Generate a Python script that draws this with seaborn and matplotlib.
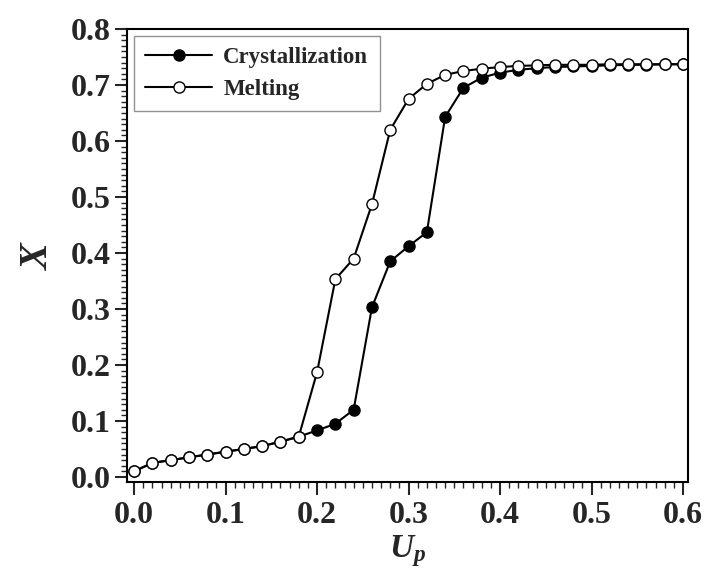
import matplotlib
matplotlib.use("Agg")
import matplotlib.pyplot as plt
import seaborn as sns
import numpy as np
from matplotlib.ticker import MultipleLocator

up = [round(0.02 * i, 2) for i in range(31)]
melting = [0.010, 0.025, 0.030, 0.035, 0.040, 0.045, 0.050, 0.055, 0.063, 0.072,
           0.187, 0.353, 0.390, 0.487, 0.620, 0.675, 0.702, 0.718, 0.725, 0.729,
           0.732, 0.734, 0.735, 0.736, 0.736, 0.736, 0.737, 0.737, 0.737, 0.737, 0.737]
crystallization = [0.010, 0.025, 0.030, 0.035, 0.040, 0.045, 0.050, 0.055, 0.063, 0.072,
                   0.083, 0.095, 0.120, 0.303, 0.385, 0.412, 0.437, 0.643, 0.695, 0.713,
                   0.722, 0.727, 0.730, 0.732, 0.733, 0.734, 0.735, 0.736, 0.736, 0.737, 0.737]
x_ticks = [0.0, 0.1, 0.2, 0.3, 0.4, 0.5, 0.6]
y_ticks = [0.0, 0.1, 0.2, 0.3, 0.4, 0.5, 0.6, 0.7, 0.8]

sns.set_style("ticks")
plt.rcParams['font.family'] = ['Liberation Serif', 'DejaVu Serif']
plt.rcParams['mathtext.fontset'] = 'custom'
plt.rcParams['mathtext.it'] = 'Liberation Serif:italic:bold'
plt.rcParams['mathtext.rm'] = 'Liberation Serif:bold'
plt.rcParams['mathtext.bf'] = 'Liberation Serif:bold'

fig = plt.figure(figsize=(7.12, 5.84), dpi=100)
ax = fig.add_axes([0.1784, 0.1747, 0.788, 0.7757])

sns.lineplot(x=up, y=crystallization, ax=ax, color='black', lw=1.5, marker='o',
             markersize=8, markerfacecolor='black', markeredgecolor='black',
             markeredgewidth=1.0, label='Crystallization')
sns.lineplot(x=up, y=melting, ax=ax, color='black', lw=1.5, marker='o',
             markersize=8, markerfacecolor='white', markeredgecolor='black',
             markeredgewidth=1.0, label='Melting')

ax.set_xlim(-0.0077, 0.6055)
ax.set_ylim(-0.009, 0.8)
ax.xaxis.set_minor_locator(MultipleLocator(0.01))
ax.yaxis.set_minor_locator(MultipleLocator(0.01))
ax.set_xticks(x_ticks)
ax.set_xticklabels([f"{v:.1f}" for v in x_ticks])
ax.set_yticks(y_ticks)
ax.set_yticklabels([f"{v:.1f}" for v in y_ticks])
ax.tick_params(axis='x', which='major', direction='out', length=9, width=1.5, labelsize=23, pad=5)
ax.tick_params(axis='y', which='major', direction='out', length=9, width=1.5, labelsize=23, pad=3)
ax.tick_params(which='minor', direction='out', length=4.5, width=1.0)
for lab in ax.get_xticklabels() + ax.get_yticklabels():
    lab.set_fontweight('bold')
for s in ax.spines.values():
    s.set_linewidth(1.5)
    s.set_color('black')

ax.set_xlabel(r'$U_p$', fontsize=24, labelpad=2)
ax.set_ylabel(r'$X$', fontsize=29, labelpad=10)

leg = ax.legend(loc='upper left', frameon=True, fancybox=False, edgecolor='#777777',
                prop={'weight': 'bold', 'size': 16.5}, handlelength=2.9,
                borderaxespad=0.3, labelspacing=0.45, handletextpad=0.5,
                borderpad=0.5)
leg.get_frame().set_linewidth(1.0)

fig.savefig('out.png', dpi=100)
